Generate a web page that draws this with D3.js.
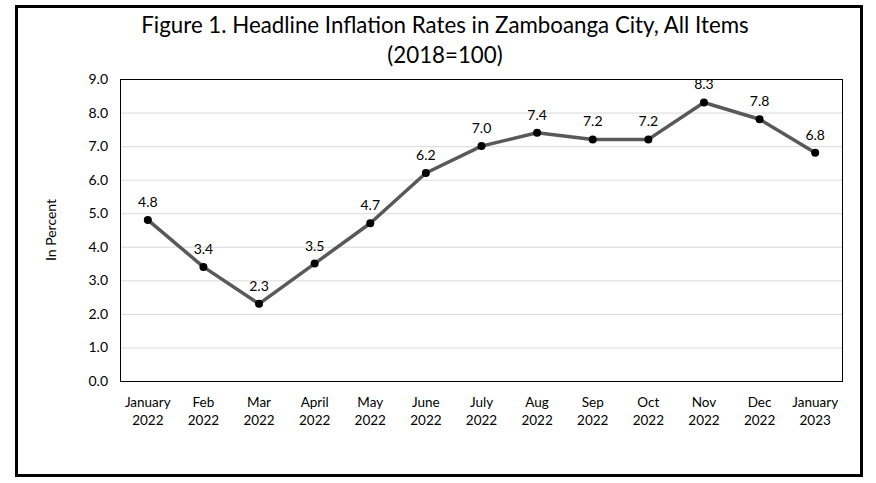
<!DOCTYPE html>
<html><head><meta charset="utf-8">
<script src="https://cdn.jsdelivr.net/npm/d3@7"></script>
<style>body{margin:0;background:#fff}svg{display:block}text{font-family:Lato,"Open Sans",sans-serif}</style>
</head><body>
<svg id="c" width="876" height="483"></svg>
<script>
const months = ["January","Feb","Mar","April","May","June","July","Aug","Sep","Oct","Nov","Dec","January"];
const years = ["2022","2022","2022","2022","2022","2022","2022","2022","2022","2022","2022","2022","2023"];
const values = [4.8,3.4,2.3,3.5,4.7,6.2,7.0,7.4,7.2,7.2,8.3,7.8,6.8];
const labels = ["4.8","3.4","2.3","3.5","4.7","6.2","7.0","7.4","7.2","7.2","8.3","7.8","6.8"];
const yTicks = [0,1,2,3,4,5,6,7,8,9];

const svg = d3.select("#c");
svg.append("rect").attr("x",16.5).attr("y",6.5).attr("width",845).attr("height",469)
  .attr("fill","#fff").attr("stroke","#000").attr("stroke-width",3);

const L=120,R=843,T=79,B=381;
const idx = d3.range(values.length);
const x = d3.scaleBand().domain(idx).range([L,R]);
const y = d3.scaleLinear().domain([0,9]).range([B,T]);

svg.append("g").selectAll("line").data(yTicks.slice(1,-1)).join("line")
  .attr("x1",L).attr("x2",R).attr("y1",d=>y(d)+0.5).attr("y2",d=>y(d)+0.5)
  .attr("stroke","#d9d9d9").attr("stroke-width",1);
svg.append("rect").attr("x",L+0.5).attr("y",T+0.5).attr("width",R-L-1).attr("height",B-T)
  .attr("fill","none").attr("stroke","#000").attr("stroke-width",1);

const yAxis = d3.axisLeft(y).tickValues(yTicks).tickFormat(d3.format(".1f")).tickSize(0).tickPadding(12);
const ga = svg.append("g").attr("transform",`translate(${L},0)`).call(yAxis);
ga.select(".domain").remove();
ga.selectAll("text").attr("font-size",14).attr("fill","#000").attr("font-family","Lato,sans-serif");

const xAxis = d3.axisBottom(x).tickSize(0).tickFormat("");
const gx = svg.append("g").attr("transform",`translate(0,${B})`).call(xAxis);
gx.select(".domain").remove();
gx.selectAll(".tick").each(function(d){
  const t = d3.select(this).append("text").attr("fill","#000").attr("font-size",13.5)
    .attr("text-anchor","middle").attr("font-family","Lato,sans-serif");
  t.append("tspan").attr("x",0).attr("y",26).text(months[d]);
  t.append("tspan").attr("x",0).attr("y",44).text(years[d]);
});

const cx = i => x(i)+x.bandwidth()/2;
svg.append("path").datum(idx)
  .attr("d",d3.line().x(cx).y(i=>y(values[i])))
  .attr("fill","none").attr("stroke","#595959").attr("stroke-width",3.5).attr("stroke-linejoin","round");
svg.append("g").selectAll("circle").data(idx).join("circle")
  .attr("cx",cx).attr("cy",i=>y(values[i])).attr("r",4).attr("fill","#000");
svg.append("g").selectAll("text").data(idx).join("text")
  .attr("x",cx).attr("y",i=>y(values[i])-13).attr("text-anchor","middle")
  .attr("font-size",14).attr("fill","#000").text(i=>labels[i]);

svg.append("text").attr("x",445).attr("y",33).attr("text-anchor","middle").attr("font-size",22.3)
  .text("Figure 1. Headline Inflation Rates in Zamboanga City, All Items");
svg.append("text").attr("x",445).attr("y",63).attr("text-anchor","middle").attr("font-size",22.3)
  .text("(2018=100)");
svg.append("text").attr("transform","translate(56,230) rotate(-90)").attr("text-anchor","middle")
  .attr("font-size",14).text("In Percent");
</script>
</body></html>
